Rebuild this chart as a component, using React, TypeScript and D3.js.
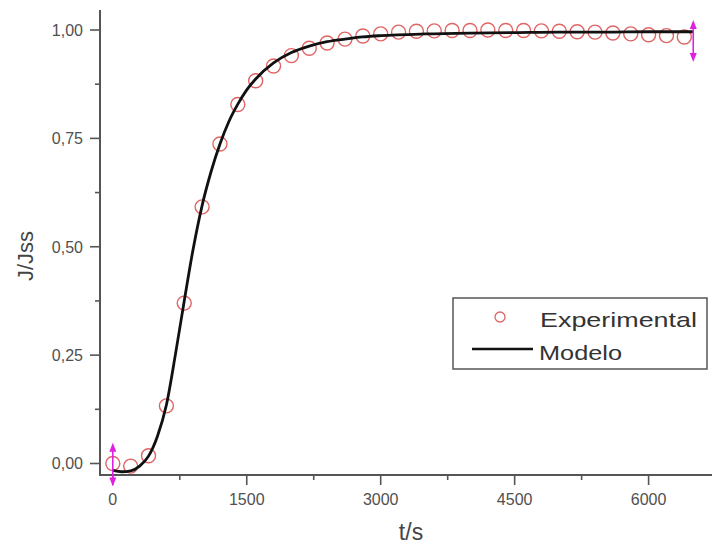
import React from "react";
import * as d3 from "d3";

// Experimental data: t (s) and J/Jss
const expT = [0, 200, 400, 600, 800, 1000, 1200, 1400, 1600, 1800, 2000, 2200, 2400, 2600, 2800, 3000, 3200, 3400, 3600, 3800, 4000, 4200, 4400, 4600, 4800, 5000, 5200, 5400, 5600, 5800, 6000, 6200, 6400];
const expJ = [0.0, -0.006, 0.018, 0.133, 0.37, 0.592, 0.737, 0.828, 0.883, 0.917, 0.941, 0.958, 0.97, 0.979, 0.986, 0.991, 0.995, 0.997, 0.998, 0.999, 0.999, 1.0, 0.999, 0.999, 0.998, 0.997, 0.996, 0.995, 0.993, 0.991, 0.989, 0.987, 0.984];

// Model curve
const modelT = [0, 100, 200, 300, 400, 500, 600, 700, 800, 900, 1000, 1100, 1200, 1300, 1400, 1500, 1600, 1800, 2000, 2200, 2400, 2600, 2800, 3000, 3500, 4000, 4500, 5000, 5500, 6000, 6500];
const modelJ = [-0.016, -0.019, -0.017, -0.006, 0.017, 0.063, 0.135, 0.25, 0.375, 0.495, 0.595, 0.673, 0.737, 0.789, 0.829, 0.862, 0.887, 0.924, 0.948, 0.963, 0.973, 0.979, 0.984, 0.987, 0.991, 0.993, 0.994, 0.995, 0.995, 0.996, 0.996];

// Data-reader markers (t, J top, J bottom)
const markerT = [0, 6500];
const markerTop = [0.048, 1.023];
const markerBottom = [-0.053, 0.926];

const xTicks = [0, 1500, 3000, 4500, 6000];
const xMinorTicks = [750, 2250, 3750, 5250];
const yTicks = [0, 0.25, 0.5, 0.75, 1.0];
const yTickLabels = ["0,00", "0,25", "0,50", "0,75", "1,00"];
const yMinorTicks = [0.125, 0.375, 0.625, 0.875];

const xLabel = "t/s";
const yLabel = "J/Jss";
const legendLabels = ["Experimental", "Modelo"];

const FONT = "'Liberation Sans', Arial, sans-serif";
const AXIS = "#555";

export default function App() {
  const W = 712, H = 546;
  const x = d3.scaleLinear().domain([0, 6000]).range([112.8, 648.6]);
  const y = d3.scaleLinear().domain([0, 1]).range([463.5, 30]);
  const axX = 100, axY = 475, axTop = 10, axRight = 712;

  const line = d3
    .line<number>()
    .x((_, i) => x(modelT[i]))
    .y((d) => y(d))
    .curve(d3.curveMonotoneX);

  const magenta = "#e020e0";

  return (
    <svg width={W} height={H} style={{ position: "absolute", left: 0, top: 0, background: "#fff" }}>
      <rect x={0} y={0} width={W} height={H} fill="#fff" />
      {/* axes */}
      <line x1={axX} y1={axTop} x2={axX} y2={axY + 1} stroke={AXIS} strokeWidth={2} />
      <line x1={axX - 1} y1={axY} x2={axRight} y2={axY} stroke={AXIS} strokeWidth={2} />
      {yTicks.map((v, i) => (
        <g key={"yt" + i}>
          <line x1={axX - 10} x2={axX} y1={y(v)} y2={y(v)} stroke={AXIS} strokeWidth={1.6} />
          <text x={83} y={y(v)} dy="0.36em" textAnchor="end" fontFamily={FONT} fontSize={16} fill="#505050">
            {yTickLabels[i]}
          </text>
        </g>
      ))}
      {yMinorTicks.map((v, i) => (
        <line key={"ym" + i} x1={axX - 5} x2={axX} y1={y(v)} y2={y(v)} stroke={AXIS} strokeWidth={1.6} />
      ))}
      {xTicks.map((v, i) => (
        <g key={"xt" + i}>
          <line x1={x(v)} x2={x(v)} y1={axY} y2={axY + 10} stroke={AXIS} strokeWidth={1.6} />
          <text x={x(v)} y={505} textAnchor="middle" fontFamily={FONT} fontSize={16} fill="#505050">
            {String(v)}
          </text>
        </g>
      ))}
      {xMinorTicks.map((v, i) => (
        <line key={"xm" + i} x1={x(v)} x2={x(v)} y1={axY} y2={axY + 5} stroke={AXIS} strokeWidth={1.6} />
      ))}
      {/* axis labels */}
      <text x={411} y={540} textAnchor="middle" fontFamily={FONT} fontSize={23} fill="#444">
        {xLabel}
      </text>
      <text
        transform={`translate(33,256) rotate(-90)`}
        textAnchor="middle"
        fontFamily={FONT}
        fontSize={22}
        fill="#444"
      >
        {yLabel}
      </text>
      {/* experimental circles */}
      {expT.map((t, i) => (
        <circle key={"c" + i} cx={x(t)} cy={y(expJ[i])} r={7} fill="none" stroke="#e06464" strokeWidth={1.4} />
      ))}
      {/* model line */}
      <path d={line(modelJ) || ""} fill="none" stroke="#111" strokeWidth={2.8} />
      {/* magenta markers */}
      {markerT.map((t, i) => {
        const cx = x(t);
        const y1 = y(markerTop[i]);
        const y2 = y(markerBottom[i]);
        return (
          <g key={"m" + i}>
            <line x1={cx} x2={cx} y1={y1 + 6} y2={y2 - 6} stroke={magenta} strokeWidth={1.6} />
            <path d={`M${cx},${y1} L${cx - 3.5},${y1 + 9} L${cx + 3.5},${y1 + 9} Z`} fill={magenta} />
            <path d={`M${cx},${y2} L${cx - 3.5},${y2 - 9} L${cx + 3.5},${y2 - 9} Z`} fill={magenta} />
          </g>
        );
      })}
      {/* legend */}
      <rect x={453} y={298} width={254} height={71} fill="#fff" stroke="#555" strokeWidth={1.5} />
      <circle cx={500} cy={317} r={5} fill="none" stroke="#e06464" strokeWidth={1.3} />
      <text x={540} y={327} fontFamily={FONT} fontSize={21} fill="#333" textLength={157} lengthAdjust="spacingAndGlyphs">
        {legendLabels[0]}
      </text>
      <line x1={472} x2={533} y1={349} y2={349} stroke="#111" strokeWidth={2.5} />
      <text x={539} y={360} fontFamily={FONT} fontSize={21} fill="#333" textLength={83} lengthAdjust="spacingAndGlyphs">
        {legendLabels[1]}
      </text>
    </svg>
  );
}
